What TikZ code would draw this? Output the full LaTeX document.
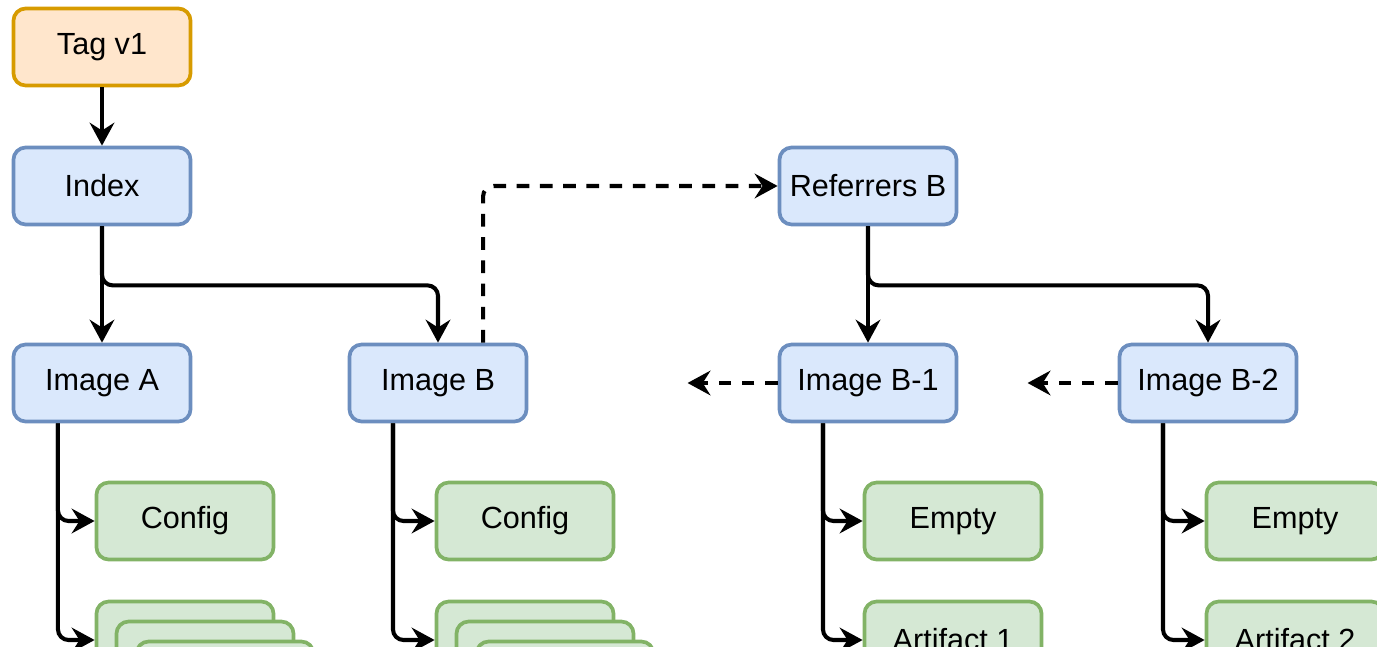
\documentclass[tikz,border=0pt]{standalone}
\usepackage{fontspec}
\setmainfont{Liberation Sans}
\usetikzlibrary{positioning, arrows.meta}
\definecolor{tagFill}{HTML}{FFE6CC}
\definecolor{tagLine}{HTML}{D79B00}
\definecolor{imgFill}{HTML}{DAE8FC}
\definecolor{imgLine}{HTML}{6C8EBF}
\definecolor{blobFill}{HTML}{D5E8D4}
\definecolor{blobLine}{HTML}{82B366}

\begin{document}
\begin{tikzpicture}[
  x=0.01cm, y=-0.01cm,
  font=\fontsize{8.7}{10}\selectfont,
  box/.style={draw, rounded corners=3.5pt, line width=1.05pt, inner sep=0pt,
              minimum width=1.77cm, minimum height=0.77cm},
  tagBox/.style={box, draw=tagLine, fill=tagFill},
  imgBox/.style={box, draw=imgLine, fill=imgFill},
  blobBox/.style={box, draw=blobLine, fill=blobFill},
  link/.style={-{Stealth[length=6.5pt, width=7pt, inset=2.2pt]}, line width=1.15pt,
               rounded corners=3pt},
  refLink/.style={link, dash pattern=on 3.6pt off 3pt},
]
\useasboundingbox (0,0) rectangle (1377,646);
\clip (0,0) rectangle (1377,646);

% --- Tag and index ---
\node[tagBox] (tag) at (102, 47) {Tag v1};
\node[imgBox] (index) at (102, 186) {Index};

% --- Images ---
\node[imgBox] (imgA) at (102, 383) {Image A};
\node[imgBox] (imgB) at (438, 383) {Image B};
\node[imgBox] (refB) at (868, 186) {Referrers B};
\node[imgBox] (imgB1) at (868, 383) {Image B-1};
\node[imgBox] (imgB2) at (1208, 383) {Image B-2};

% --- Blobs under each image ---
\node[blobBox] (cfgA) at (185, 521) {Config};
\node[blobBox] (layA1) at (185, 640) {};
\node[blobBox] (layA2) at (205, 660) {};
\node[blobBox] (layA3) at (225, 680) {};
\node[blobBox] (cfgB) at (525, 521) {Config};
\node[blobBox] (layB1) at (525, 640) {};
\node[blobBox] (layB2) at (545, 660) {};
\node[blobBox] (layB3) at (565, 680) {};
\node[blobBox] (emptyB1) at (953, 521) {Empty};
\node[blobBox] (artB1) at (953, 640) {Artifact 1};
\node[blobBox] (emptyB2) at (1295, 521) {Empty};
\node[blobBox] (artB2) at (1295, 640) {Artifact 2};

% --- Free ends of the subject links ---
\coordinate[left=0.9cm of imgB1.west] (subjB1);
\coordinate[left=0.9cm of imgB2.west] (subjB2);

% --- Manifest links ---
\draw[link] (tag) -- (index);
\draw[link] (index) -- (imgA);
\draw[link] (index.south) -- ++(0, 59) -| (imgB.north);
\draw[link] (refB) -- (imgB1);
\draw[link] (refB.south) -- ++(0, 59) -| (imgB2.north);

% --- Referrers and subjects ---
\draw[refLink] ([xshift=0.45cm]imgB.north) |- (refB.west);
\draw[refLink] (imgB1.west) -- (subjB1);
\draw[refLink] (imgB2.west) -- (subjB2);

% --- Blob links ---
\draw[link] ([xshift=-0.44cm]imgA.south) |- (cfgA.west);
\draw[link] ([xshift=-0.44cm]imgA.south) |- (layA1.west);
\draw[link] ([xshift=-0.45cm]imgB.south) |- (cfgB.west);
\draw[link] ([xshift=-0.45cm]imgB.south) |- (layB1.west);
\draw[link] ([xshift=-0.45cm]imgB1.south) |- (emptyB1.west);
\draw[link] ([xshift=-0.45cm]imgB1.south) |- (artB1.west);
\draw[link] ([xshift=-0.45cm]imgB2.south) |- (emptyB2.west);
\draw[link] ([xshift=-0.45cm]imgB2.south) |- (artB2.west);

\end{tikzpicture}
\end{document}
